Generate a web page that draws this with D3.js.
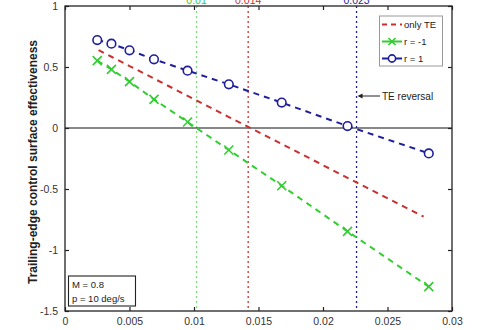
<!DOCTYPE html>
<html>
<head>
<meta charset="utf-8">
<script src="https://cdn.jsdelivr.net/npm/d3@7"></script>
<style>
  html, body { margin: 0; padding: 0; background: #fff; }
  svg { display: block; font-family: "Liberation Sans", Arial, sans-serif; }
</style>
</head>
<body>
<svg id="chart" width="500" height="330"></svg>
<script>
// Control derivative vs. roll-rate ratio
const xTicks = [0, 0.005, 0.01, 0.015, 0.02, 0.025, 0.03];
const xTickLabels = ["0", "0.005", "0.01", "0.015", "0.02", "0.025", "0.03"];
const yTicks = [-1.5, -1, -0.5, 0, 0.5, 1];
const yTickLabels = ["-1.5", "-1", "-0.5", "0", "0.5", "1"];

const onlyTeX = [0.0026, 0.0036, 0.0050, 0.0069, 0.0095, 0.0127, 0.0168, 0.0219, 0.0278];
const onlyTeY = [0.639, 0.584, 0.508, 0.405, 0.264, 0.090, -0.131, -0.408, -0.727];

const rX = [0.0025, 0.0036, 0.0050, 0.0069, 0.0095, 0.0127, 0.0168, 0.0219, 0.0282];
const rMinusY = [0.552, 0.481, 0.380, 0.235, 0.049, -0.180, -0.473, -0.847, -1.300];
const rPlusY = [0.721, 0.691, 0.637, 0.563, 0.470, 0.358, 0.208, 0.016, -0.208];

const reversalX = [0.0102, 0.0142, 0.0226];
const reversalLabels = ["0.01", "0.014", "0.023"];

const legendLabels = ["only TE", "r = -1", "r = 1"];
const infoLines = ["M = 0.8", "p = 10 deg/s"];

const colRed = "#c9302f", colGreen = "#2fcf2f", colBlue = "#1f1f9c";

const svg = d3.select("#chart");
const L = 65, R = 452, T = 6, B = 311;
const x = d3.scaleLinear().domain([0, 0.03]).range([L, R]);
const y = d3.scaleLinear().domain([-1.5, 1]).range([B, T]);

// vertical reference lines and their labels
const vColors = [colGreen, colRed, colBlue];
reversalX.forEach((v, i) => {
  svg.append("line")
    .attr("x1", x(v)).attr("x2", x(v)).attr("y1", T).attr("y2", B)
    .attr("stroke", i === 0 ? "#7fdc7f" : vColors[i]).attr("stroke-width", 1.3)
    .attr("stroke-dasharray", "2,3");
  svg.append("text")
    .attr("x", x(v)).attr("y", 4).attr("text-anchor", "middle")
    .attr("font-size", 10.5).attr("fill", vColors[i]).text(reversalLabels[i]);
});

// zero line
svg.append("line")
  .attr("x1", L).attr("x2", R).attr("y1", y(0)).attr("y2", y(0))
  .attr("stroke", "#111").attr("stroke-width", 1.2);

// axes with inward ticks
const axisBottom = d3.axisBottom(x).tickValues(xTicks).tickSize(-4).tickPadding(7)
  .tickFormat((d, i) => xTickLabels[i]);
const axisLeft = d3.axisLeft(y).tickValues(yTicks).tickSize(-4).tickPadding(7)
  .tickFormat((d, i) => yTickLabels[i]);
const axisTop = d3.axisTop(x).tickValues(xTicks).tickSize(-4).tickFormat("");
const axisRight = d3.axisRight(y).tickValues(yTicks).tickSize(-4).tickFormat("");

function styleAxis(g) {
  g.select(".domain").attr("stroke", "#222").attr("stroke-width", 1.3);
  g.selectAll(".tick line").attr("stroke", "#222").attr("stroke-width", 1.2);
  g.selectAll(".tick text").attr("fill", "#333").attr("font-size", 10.5)
    .attr("font-family", "'Liberation Sans', Arial, sans-serif");
}
svg.append("g").attr("transform", `translate(0,${B})`).call(axisBottom).call(styleAxis);
svg.append("g").attr("transform", `translate(${L},0)`).call(axisLeft).call(styleAxis);
svg.append("g").attr("transform", `translate(0,${T})`).call(axisTop).call(styleAxis);
svg.append("g").attr("transform", `translate(${R},0)`).call(axisRight).call(styleAxis);
svg.selectAll(".domain").attr("d", null);
svg.append("rect").attr("x", L).attr("y", T).attr("width", R - L).attr("height", B - T)
  .attr("fill", "none").attr("stroke", "#222").attr("stroke-width", 1.3);

// series
const line = d3.line().x(d => x(d[0])).y(d => y(d[1]));
const redData = onlyTeX.map((v, i) => [v, onlyTeY[i]]);
const greenData = rX.map((v, i) => [v, rMinusY[i]]);
const blueData = rX.map((v, i) => [v, rPlusY[i]]);

[[redData, colRed], [greenData, colGreen], [blueData, colBlue]].forEach(([d, c]) => {
  svg.append("path").datum(d).attr("d", line)
    .attr("fill", "none").attr("stroke", c).attr("stroke-width", 2)
    .attr("stroke-dasharray", "6,5");
});

function cross(g, cx, cy, s, c) {
  g.append("path")
    .attr("d", `M${cx - s},${cy - s}L${cx + s},${cy + s}M${cx - s},${cy + s}L${cx + s},${cy - s}`)
    .attr("stroke", c).attr("stroke-width", 1.6).attr("fill", "none");
}
greenData.forEach(d => cross(svg, x(d[0]), y(d[1]), 4.5, colGreen));
svg.selectAll("circle.rp").data(blueData).join("circle").attr("class", "rp")
  .attr("cx", d => x(d[0])).attr("cy", d => y(d[1])).attr("r", 4.3)
  .attr("fill", "#fff").attr("stroke", colBlue).attr("stroke-width", 1.6);

// TE reversal annotation
const arrowY = 96;
svg.append("line").attr("x1", x(0.0226) + 3).attr("x2", 380).attr("y1", arrowY).attr("y2", arrowY)
  .attr("stroke", "#222").attr("stroke-width", 1);
svg.append("path")
  .attr("d", `M${x(0.0226) + 1},${arrowY}l5,-2.5l0,5z`).attr("fill", "#222");
svg.append("text").attr("x", 382).attr("y", arrowY + 4).attr("font-size", 10)
  .attr("fill", "#222").text("TE reversal");

// legend
const lg = svg.append("g");
lg.append("rect").attr("x", 379.5).attr("y", 16).attr("width", 63).attr("height", 50)
  .attr("fill", "#fff").attr("stroke", "#999").attr("stroke-width", 1);
const legCols = [colRed, colGreen, colBlue];
legendLabels.forEach((t, i) => {
  const ly = 24.5 + i * 17;
  lg.append("line").attr("x1", 382).attr("x2", 402).attr("y1", ly).attr("y2", ly)
    .attr("stroke", legCols[i]).attr("stroke-width", 2)
    .attr("stroke-dasharray", i === 0 ? "5,4" : null);
  if (i === 1) cross(lg, 392, ly, 3.5, colGreen);
  if (i === 2) lg.append("circle").attr("cx", 392).attr("cy", ly).attr("r", 3.6)
    .attr("fill", "#fff").attr("stroke", colBlue).attr("stroke-width", 1.6);
  lg.append("text").attr("x", 404).attr("y", ly + 3.5).attr("font-size", 9.5)
    .attr("fill", "#222").text(t);
});

// conditions box
svg.append("rect").attr("x", 68.5).attr("y", 276).attr("width", 67).attr("height", 30)
  .attr("fill", "#fff").attr("stroke", "#222").attr("stroke-width", 1.1);
infoLines.forEach((t, i) => {
  svg.append("text").attr("x", 72).attr("y", 287.5 + i * 14).attr("font-size", 9.5)
    .attr("fill", "#222").text(t);
});

// y axis title
svg.append("text")
  .attr("transform", `translate(37,162) rotate(-90)`)
  .attr("text-anchor", "middle").attr("font-size", 12).attr("font-weight", "bold")
  .attr("fill", "#222").text("Trailing-edge control surface effectiveness");
</script>
</body>
</html>
